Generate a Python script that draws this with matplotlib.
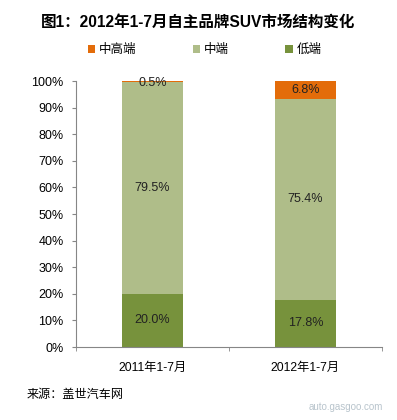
import numpy as np
import matplotlib
matplotlib.use("Agg")
import matplotlib.pyplot as plt
from matplotlib.ticker import FixedLocator, PercentFormatter

plt.rcParams["font.family"] = ["Liberation Sans", "Noto Sans CJK SC", "DejaVu Sans"]

categories = ["2011年1-7月", "2012年1-7月"]
low = [20.0, 17.8]
mid = [79.5, 75.4]
high = [0.5, 6.8]
series_names = ["中高端", "中端", "低端"]
colors = {"中高端": "#E36C0A", "中端": "#AFBD89", "低端": "#77923C"}

fig = plt.figure(figsize=(3.97, 4.2), dpi=100)
ax = fig.add_axes([0.1914, 0.1738, 0.7708, 0.6333])

x = np.arange(len(categories))
w = 0.4
ax.bar(x, low, w, color=colors["低端"], label="低端")
ax.bar(x, mid, w, bottom=low, color=colors["中端"], label="中端")
bottom_high = [a + b for a, b in zip(low, mid)]
ax.bar(x, high, w, bottom=bottom_high, color=colors["中高端"], label="中高端")

fs = 9
for i in range(len(categories)):
    ax.text(x[i], low[i] / 2, f"{low[i]:.1f}%", ha="center", va="center", fontsize=fs, color="#222222")
    ax.text(x[i], low[i] + mid[i] / 2, f"{mid[i]:.1f}%", ha="center", va="center", fontsize=fs, color="#222222")
    if high[i] < 2:
        ax.text(x[i], 99.3, f"{high[i]:.1f}%", ha="center", va="center", fontsize=fs, color="#222222")
    else:
        ax.text(x[i], bottom_high[i] + high[i] / 2, f"{high[i]:.1f}%", ha="center", va="center", fontsize=fs, color="#222222")

ax.set_xlim(-0.5, 1.5)
ax.set_ylim(0, 100)
ax.yaxis.set_major_locator(FixedLocator(np.arange(0, 101, 10)))
ax.yaxis.set_major_formatter(PercentFormatter(decimals=0))
ax.set_xticks(x)
ax.set_xticklabels(categories)
ax.xaxis.set_minor_locator(FixedLocator([-0.5, 0.5, 1.5]))
ax.tick_params(axis="x", which="major", length=0, pad=11, labelsize=8.8)
ax.tick_params(axis="x", which="minor", length=3, direction="out", color="#868686")
ax.tick_params(axis="y", length=3, direction="out", color="#868686", labelsize=9, pad=6)
for s in ["top", "right"]:
    ax.spines[s].set_visible(False)
for s in ["left", "bottom"]:
    ax.spines[s].set_color("#868686")
    ax.spines[s].set_linewidth(0.8)

# legend
handles, labels = ax.get_legend_handles_labels()
order = [labels.index(n) for n in series_names]
fig.legend([handles[i] for i in order], [labels[i] for i in order],
           loc="center", bbox_to_anchor=(0.515, 0.881), ncol=3, frameon=False,
           fontsize=9, handlelength=0.6, handleheight=0.6, handletextpad=0.3,
           columnspacing=4.5)

fig.text(0.5, 0.948, "图1：2012年1-7月自主品牌SUV市场结构变化", ha="center", va="center",
         fontsize=11.2, fontweight="bold")
fig.text(0.068, 0.06, "来源：盖世汽车网", ha="left", va="center", fontsize=8.7)
fig.text(0.87, 0.03, "auto.gasgoo.com", ha="center", va="center", fontsize=7, color="#b8c4cc")

fig.savefig("out.png", dpi=100)
